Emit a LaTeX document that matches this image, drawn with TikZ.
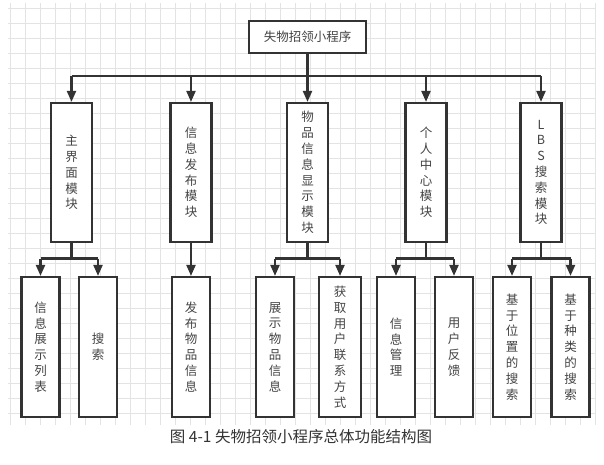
\documentclass[tikz,border=0pt]{standalone}
\usepackage{fontspec}
\setmainfont{Noto Sans CJK SC}
\usetikzlibrary{arrows.meta}
\definecolor{ink}{HTML}{333333}
\definecolor{txt}{HTML}{444444}
\definecolor{gridc}{HTML}{E3E3E3}
\tikzset{
  box/.style={draw=ink, line width=2.2pt, fill=white, inner sep=0pt, align=center,
    text=txt, font=\fontsize{12.5pt}{15.8pt}\selectfont},
  topbox/.style={box, minimum width=117pt, minimum height=32pt},
  lvone/.style={box, minimum width=41pt, minimum height=139pt},
  lvtwo/.style={box, minimum width=38pt, minimum height=140pt},
  conn/.style={draw=ink, line width=2.2pt},
  arr/.style={conn, -{Triangle[length=11pt,width=9pt]}},
}
\begin{document}
\begin{tikzpicture}[x=1pt,y=-1pt]
\useasboundingbox (0,0) rectangle (604,464);
% background grid
\foreach \gx in {10,25,...,595} \draw[gridc, line width=0.8pt] (\gx,3) -- (\gx,425);
\foreach \gy in {8,23,...,425} \draw[gridc, line width=0.8pt] (8,\gy) -- (596,\gy);

% top
\node[topbox] (top) at (307.5,37) {失物招领小程序};

% level 1
\node[lvone] (m1) at (71.5,172.5) {主\\界\\面\\模\\块};
\node[lvone] (m2) at (191,172.5) {信\\息\\发\\布\\模\\块};
\node[lvone] (m3) at (307.5,172.5) {物\\品\\信\\息\\显\\示\\模\\块};
\node[lvone] (m4) at (426,172.5) {个\\人\\中\\心\\模\\块};
\node[lvone] (m5) at (541,172.5) {L\\B\\S\\搜\\索\\模\\块};

% level 2
\node[lvtwo] (s1) at (40.5,347) {信\\息\\展\\示\\列\\表};
\node[lvtwo] (s2) at (98,347) {搜\\索};
\node[lvtwo] (s3) at (191,347) {发\\布\\物\\品\\信\\息};
\node[lvtwo] (s4) at (275,347) {展\\示\\物\\品\\信\\息};
\node[lvtwo, minimum width=42pt] (s5) at (340,347) {获\\取\\用\\户\\联\\系\\方\\式};
\node[lvtwo] (s6) at (396,347) {信\\息\\管\\理};
\node[lvtwo] (s7) at (454,347) {用\\户\\反\\馈};
\node[lvtwo] (s8) at (512,347) {基\\于\\位\\置\\的\\搜\\索};
\node[lvtwo] (s9) at (570.5,347) {基\\于\\种\\类\\的\\搜\\索};

% connectors level 0 -> 1
\coordinate (busA) at (307.5,76);
\draw[conn] (busA -| m1) -- (busA -| m5);
\draw[arr] (top.south) -- (m3.north);
\foreach \m in {m1,m2,m4,m5} \draw[arr] (busA -| \m) -- (\m.north);

% connectors level 1 -> 2
\coordinate (busB) at (0,258.5);
\draw[conn] (m1.south) -- (busB -| m1);
\draw[conn] (busB -| s1) -- (busB -| s2);
\draw[arr] (busB -| s1) -- (s1.north);
\draw[arr] (busB -| s2) -- (s2.north);

\draw[arr] (m2.south) -- (s3.north);

\draw[conn] (m3.south) -- (busB -| m3);
\draw[conn] (busB -| s4) -- (busB -| s5);
\draw[arr] (busB -| s4) -- (s4.north);
\draw[arr] (busB -| s5) -- (s5.north);

\draw[conn] (m4.south) -- (busB -| m4);
\draw[conn] (busB -| s6) -- (busB -| s7);
\draw[arr] (busB -| s6) -- (s6.north);
\draw[arr] (busB -| s7) -- (s7.north);

\draw[conn] (m5.south) -- (busB -| m5);
\draw[conn] (busB -| s8) -- (busB -| s9);
\draw[arr] (busB -| s8) -- (s8.north);
\draw[arr] (busB -| s9) -- (s9.north);

% caption
\node[text=ink, font=\fontsize{15.5pt}{18pt}\selectfont, inner sep=0pt] (cap) at (301,437) {图 4-1 失物招领小程序总体功能结构图};
\end{tikzpicture}
\end{document}
